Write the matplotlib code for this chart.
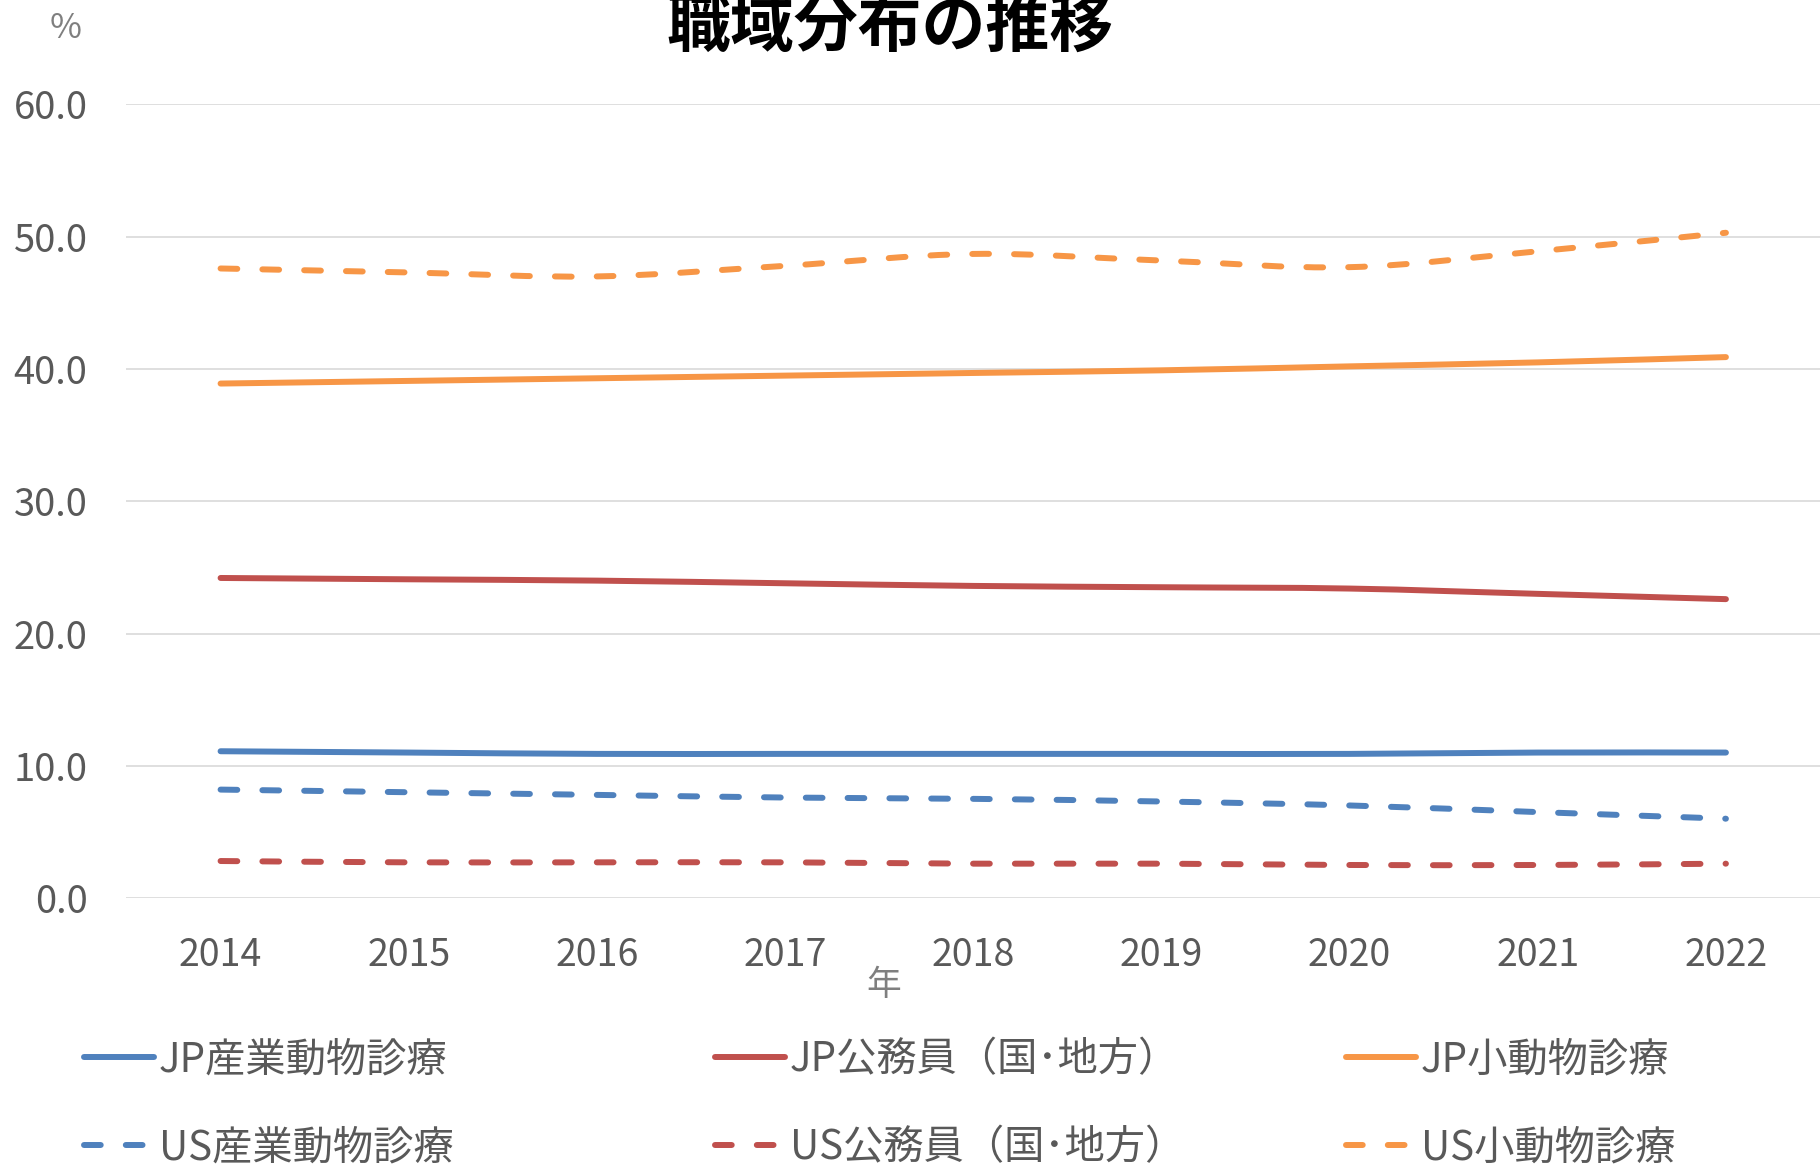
import numpy as np
import matplotlib
matplotlib.use('Agg')
import matplotlib.pyplot as plt
from matplotlib.path import Path
from matplotlib.patches import PathPatch
from matplotlib.lines import Line2D

plt.rcParams['font.family'] = ['Noto Sans CJK JP', 'DejaVu Sans']

# データ（%）
nen = [2014, 2015, 2016, 2017, 2018, 2019, 2020, 2021, 2022]
jp_sangyo = [11.1, 11.0, 10.9, 10.9, 10.9, 10.9, 10.9, 11.0, 11.0]
jp_komuin = [24.2, 24.1, 24.0, 23.8, 23.6, 23.5, 23.4, 23.0, 22.6]
jp_shodobutsu = [38.9, 39.1, 39.3, 39.5, 39.7, 39.9, 40.2, 40.5, 40.9]
us_sangyo = [8.2, 8.0, 7.8, 7.6, 7.5, 7.3, 7.0, 6.5, 6.0]
us_komuin = [2.8, 2.7, 2.7, 2.7, 2.6, 2.6, 2.5, 2.5, 2.6]
us_shodobutsu = [47.6, 47.3, 47.0, 47.8, 48.7, 48.2, 47.7, 48.9, 50.3]

ten_mei = ['JP産業動物診療', 'JP公務員（国･地方）', 'JP小動物診療',
           'US産業動物診療', 'US公務員（国･地方）', 'US小動物診療']

AO = '#4f81bd'
AKA = '#c0504d'
DAIDAI = '#f79646'
HAI = '#595959'
SEN = (0, (2.8, 4.2))  # 破線パターン


def SmoothPath(x, y):
    # Excelの「スムージング」線と同じようにベジェ曲線でつなぐ
    x = np.asarray(x, float)
    y = np.asarray(y, float)
    n = len(x)
    verts = [(x[0], y[0])]
    codes = [Path.MOVETO]
    for i in range(n - 1):
        i0 = max(i - 1, 0)
        i3 = min(i + 2, n - 1)
        c1 = (x[i] + (x[i + 1] - x[i0]) / 6, y[i] + (y[i + 1] - y[i0]) / 6)
        c2 = (x[i + 1] - (x[i3] - x[i]) / 6, y[i + 1] - (y[i3] - y[i]) / 6)
        verts += [c1, c2, (x[i + 1], y[i + 1])]
        codes += [Path.CURVE4] * 3
    return Path(verts, codes)


fig = plt.figure(figsize=(18.2, 11.66), dpi=100)
ax = fig.add_axes([0.0695, 0.2298, 0.9305, 0.6806])

series = [
    (jp_sangyo, AO, '-'),
    (jp_komuin, AKA, '-'),
    (jp_shodobutsu, DAIDAI, '-'),
    (us_sangyo, AO, SEN),
    (us_komuin, AKA, SEN),
    (us_shodobutsu, DAIDAI, SEN),
]

handles = []
for vals, col, ls in series:
    p = PathPatch(SmoothPath(nen, vals), fill=False, edgecolor=col,
                  linewidth=4.3, linestyle=ls, capstyle='round', zorder=3)
    ax.add_patch(p)
    handles.append(Line2D([], [], color=col, linewidth=4.3, linestyle=ls,
                          dash_capstyle='round', solid_capstyle='round'))

ax.set_xlim(2013.5, 2022.5)
ax.set_ylim(0, 60)
ax.set_xticks(nen)
ax.set_yticks(np.arange(0, 61, 10))
ax.set_yticklabels(['%.1f' % v for v in np.arange(0, 61, 10)])
ax.grid(axis='y', color='#d9d9d9', linewidth=1.2)
ax.set_axisbelow(True)
for s in ax.spines.values():
    s.set_visible(False)
ax.tick_params(axis='y', length=0, pad=28, labelsize=27.5, labelcolor=HAI)
ax.tick_params(axis='x', length=0, pad=27, labelsize=27, labelcolor=HAI)

fig.text(890 / 1820, 1 - 27 / 1166, '職域分布の推移', fontsize=46,
         fontweight='bold', color='black', ha='center', va='center')
fig.text(66 / 1820, 1 - 28 / 1166, '%', fontsize=25, color='#7f7f7f',
         ha='center', va='center')
fig.text(884 / 1820, 1 - 986 / 1166, '年', fontsize=25, color='#7f7f7f',
         ha='center', va='center')

# 凡例は列ごとに配置
col_x = [84 / 1820, 715 / 1820, 1346 / 1820]
for k in range(3):
    lg = fig.legend([handles[k], handles[k + 3]], [ten_mei[k], ten_mei[k + 3]],
                    loc='upper left', bbox_to_anchor=(col_x[k], 1 - 1039 / 1166),
                    frameon=False, fontsize=29, labelcolor=HAI,
                    handlelength=1.75, handletextpad=0.1, labelspacing=1.18,
                    borderpad=0, borderaxespad=0)

fig.savefig('out.png', dpi=100)
